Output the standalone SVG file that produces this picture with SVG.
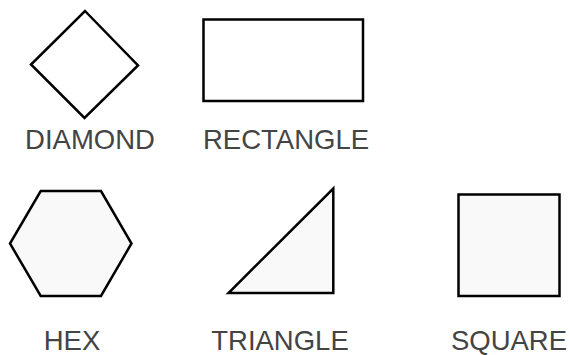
<svg xmlns="http://www.w3.org/2000/svg" width="569" height="355" viewBox="0 0 569 355">
<style>
.shape{stroke:#000;stroke-width:2.5;stroke-linejoin:miter}
.plain{fill:#fff}
.tint{fill:#f9f9f9}
.label{font-family:"Liberation Sans",Arial,sans-serif;font-size:27.5px;fill:#444;text-anchor:middle}
</style>
<rect width="569" height="355" fill="#fff"/>
<g id="diamond">
<polygon class="shape plain" points="85,11 138,65.5 84.5,118 31,64.5"/>
<text class="label" x="90" y="149">DIAMOND</text>
</g>
<g id="rectangle">
<rect class="shape plain" x="203.5" y="19.5" width="159.5" height="81.5"/>
<text class="label" x="286" y="149">RECTANGLE</text>
</g>
<g id="hex">
<polygon class="shape tint" points="40.7,191 101,191 131.5,243.5 101,296 40.7,296 10,243.5"/>
<text class="label" x="72" y="349.5">HEX</text>
</g>
<g id="triangle">
<polygon class="shape tint" points="333.3,188.5 333.3,293 228.5,293"/>
<text class="label" x="280" y="349.5">TRIANGLE</text>
</g>
<g id="square">
<rect class="shape tint" x="458.5" y="194.5" width="101" height="101.5"/>
<text class="label" x="509" y="349.5">SQUARE</text>
</g>
<g id="connectors"/>
</svg>
